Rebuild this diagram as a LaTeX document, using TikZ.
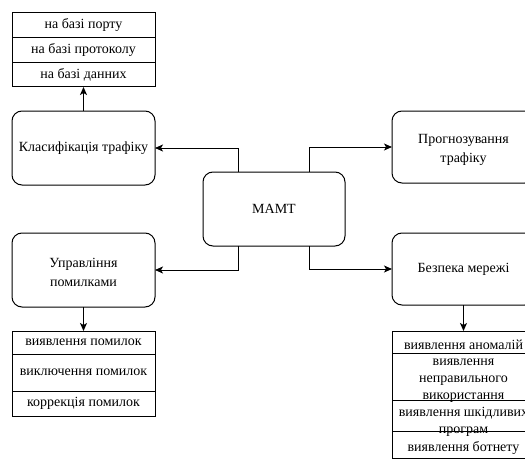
\documentclass[tikz,border=0pt]{standalone}
\usepackage{fontspec}
\setmainfont{Liberation Serif}
\usetikzlibrary{arrows.meta}
\begin{document}
\begin{tikzpicture}[x=1pt,y=-1pt,
  every node/.style={align=center},
  rbox/.style={draw, line width=1pt, rounded corners=10pt, inner sep=0pt, outer sep=0pt,
    minimum width=143pt, minimum height=74pt, font=\fontsize{14}{19.5}\selectfont},
  cell/.style={draw, line width=1pt, inner sep=0pt, outer sep=0pt, minimum width=143pt,
    font=\fontsize{14}{17}\selectfont},
  boxtext/.style={inner sep=0pt, font=\fontsize{14}{19.5}\selectfont},
  celltext/.style={inner sep=0pt, font=\fontsize{14}{17}\selectfont},
  link/.style={line width=1pt, -{Stealth[length=8pt,width=7pt,inset=2pt]}}
]
\clip (0,0) rectangle (525,460);
\useasboundingbox (0,0) rectangle (525,460);

% central block
\node[rbox, minimum width=142pt] (mamt) at (274,209) {МАМТ};

% four functional blocks
\node[rbox] (cls) at (83.5,148) {Класифікація трафіку};
\node[rbox, minimum height=72pt] (prog) at (463.5,147) {};
\node[boxtext] (prog-t) at (463.5,150) {Прогнозування\\трафіку};
\node[rbox] (upr) at (83.5,270) {};
\node[boxtext] (upr-t) at (83.5,272.5) {Управління\\помилками};
\node[rbox, minimum height=72pt] (bez) at (463.5,269) {Безпека мережі};

% classification methods
\node[cell, minimum height=25pt] (c1) at (83.5,25.5) {на базі порту};
\node[cell, minimum height=25pt] (c2) at (83.5,50.5) {на базі протоколу};
\node[cell, minimum height=24pt] (c3) at (83.5,75) {на базі данних};

% fault management tasks
\node[cell, minimum height=23pt] (f1) at (83.5,342.5) {виявлення помилок};
\node[cell, minimum height=37pt] (f2) at (83.5,372.5) {виключення помилок};
\node[cell, minimum height=25pt] (f3) at (83.5,403.5) {коррекція помилок};

% security tasks: frames, then their (taller) texts
\node[cell, minimum height=22pt] (s1) at (463.5,342) {};
\node[cell, minimum height=47pt] (s2) at (463.5,376.5) {};
\node[cell, minimum height=31pt] (s3) at (463.5,415.5) {};
\node[cell, minimum height=27pt] (s4) at (463.5,444.5) {};
\node[celltext] (s1-t) at (463.5,345) {виявлення аномалій};
\node[celltext] (s2-t) at (463.5,380.5) {виявлення\\неправильного\\використання};
\node[celltext] (s3-t) at (463.5,421.5) {виявлення шкідливих\\програм};
\node[celltext] (s4-t) at (463.5,448) {виявлення ботнету};

% connectors
\coordinate (mtl) at (238,172);
\coordinate (mtr) at (309,172);
\coordinate (mbl) at (238,246);
\coordinate (mbr) at (309,246);
\draw[link] (mtl) |- (cls.east);
\draw[link] (mtr) |- (prog.west);
\draw[link] (mbl) |- (upr.east);
\draw[link] (mbr) |- (bez.west);
\draw[link] (cls.north) -- (c3.south);
\draw[link] (upr.south) -- (f1.north);
\draw[link] (bez.south) -- (s1.north);
\end{tikzpicture}
\end{document}
